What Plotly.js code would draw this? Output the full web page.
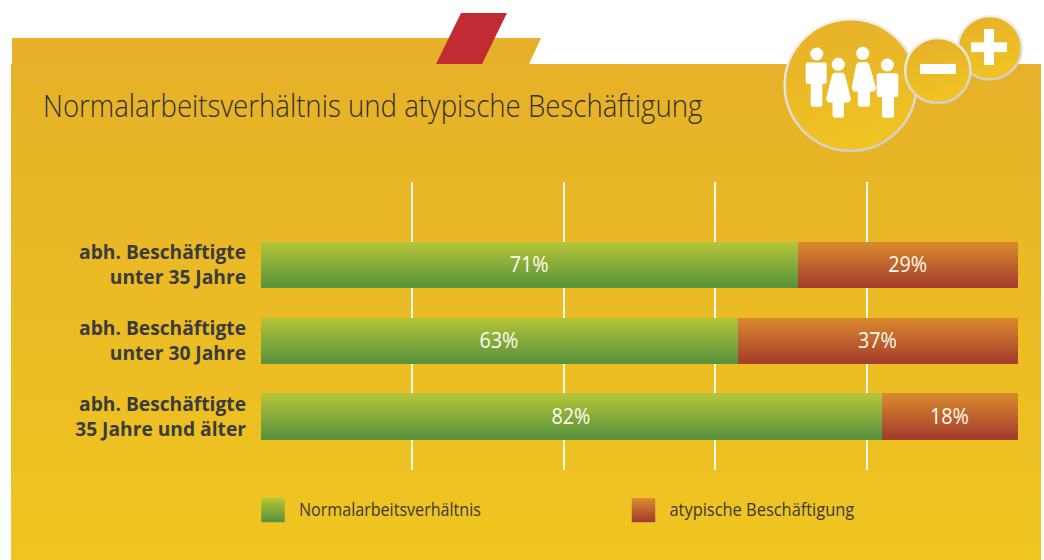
<!DOCTYPE html>
<html lang="de">
<head>
<meta charset="utf-8">
<title>Normalarbeitsverhältnis und atypische Beschäftigung</title>
<script src="https://cdn.plot.ly/plotly-3.0.1.min.js"></script>
<style>
html,body{margin:0;padding:0;background:#fff;width:1044px;height:560px;overflow:hidden}
#decor{position:absolute;left:0;top:0}
#chart{position:absolute;left:0;top:0;width:1044px;height:560px}
</style>
</head>
<body>
<svg id="decor" width="1044" height="560" viewBox="0 0 1044 560">
  <defs>
    <linearGradient id="panel" gradientUnits="userSpaceOnUse" x1="0" y1="38" x2="0" y2="560">
      <stop offset="0" stop-color="#E6B029"/><stop offset="1" stop-color="#F0C520"/>
    </linearGradient>
    <linearGradient id="disc" x1="0.35" y1="0" x2="0.6" y2="1">
      <stop offset="0" stop-color="#E7B12A"/><stop offset="1" stop-color="#F0C422"/>
    </linearGradient>
    <linearGradient id="ring" x1="0.4" y1="0" x2="0.6" y2="1">
      <stop offset="0" stop-color="#F4F2EA"/><stop offset="1" stop-color="#CFCFC8"/>
    </linearGradient>
  </defs>
  <polygon points="12,38 541,38 529,64 12,64" fill="#E6B029"/>
  <rect x="11" y="64" width="1030" height="496" fill="url(#panel)"/>
  <polygon points="461,13 507,13 482,64 436,64" fill="#C22B34"/>
  <circle cx="850.5" cy="85" r="65.8" fill="url(#disc)" stroke="url(#ring)" stroke-width="2.5"/>
  <circle cx="989.7" cy="47.7" r="31.8" fill="url(#disc)" stroke="url(#ring)" stroke-width="2.5"/>
  <circle cx="937.8" cy="70.5" r="32.6" fill="url(#disc)" stroke="url(#ring)" stroke-width="2.5"/>
  <g fill="#fff">
    <rect x="920" y="64" width="36" height="10"/>
    <rect x="971" y="42.3" width="36" height="9.8"/>
    <rect x="984" y="29" width="10" height="36"/>
    <!-- people -->
    <circle cx="816.7" cy="54" r="6.5"/>
    <path d="M807,62.5H826L826.7,64V82L825,84H822.3V105L821,106.7H812L810.7,105V84H807L805.7,82V64Z"/>
    <circle cx="838.3" cy="64.3" r="6.5"/>
    <path d="M834,72.7H843L845,75L851,99L849,102.5H844V116L843,117.7H834L832.5,116V102.5H828L826,99L832,75Z"/>
    <circle cx="862.7" cy="53.3" r="6.5"/>
    <path d="M858,62.3H867.5L869.5,65L876,88L874.5,91.5H870V105L868.5,106.7H859.5L857.8,105V91.5H853.5L851.7,88L856,65Z"/>
    <circle cx="887.3" cy="65" r="6.5"/>
    <path d="M878,73.3H897L898.3,75V95L897,97H894V116L892.5,117.7H883.5L882,116V97H878L876.7,95V75Z"/>
  </g>
</svg>
<div id="chart"></div>
<script>
const categories = [
  "abh. Beschäftigte<br>35 Jahre und älter",
  "abh. Beschäftigte<br>unter 30 Jahre",
  "abh. Beschäftigte<br>unter 35 Jahre"
];
const seriesNames = ["Normalarbeitsverhältnis", "atypische Beschäftigung"];
const normalValues = [82, 63, 71];
const atypicalValues = [18, 37, 29];
const gridTicks = [20, 40, 60, 80];
const chartTitle = "Normalarbeitsverhältnis und atypische Beschäftigung";

const face = '"Open Sans", "Noto Sans", sans-serif';
const ink = "#3A3B3B";

function barTrace(name, values, colour) {
  return {
    type: "bar", orientation: "h", name: name,
    y: categories, x: values,
    text: values.map(v => v + "%"),
    textposition: "inside", insidetextanchor: "middle", constraintext: "none",
    textangle: 0,
    textfont: {family: face, size: 22, color: "#FFFBEF", weight: 400},
    marker: {color: colour, line: {width: 0}},
    hovertemplate: "%{y}: %{x}%<extra>" + name + "</extra>"
  };
}

const data = [
  barTrace(seriesNames[0], normalValues, "#85AB3A"),
  barTrace(seriesNames[1], atypicalValues, "#BF622E")
];

const layout = {
  width: 1044, height: 560,
  margin: {l: 261, r: 26, t: 182, b: 90, pad: 0},
  paper_bgcolor: "rgba(0,0,0,0)", plot_bgcolor: "rgba(0,0,0,0)",
  barmode: "stack", bargap: 0.386,
  title: {
    text: chartTitle, font: {family: face, size: 32, color: "#303131", weight: 300},
    xref: "container", yref: "container", x: 43 / 1044, xanchor: "left",
    y: 1 - 106 / 560, yanchor: "middle"
  },
  xaxis: {
    range: [0, 100], tickmode: "array", tickvals: gridTicks, showticklabels: false,
    showgrid: true, gridcolor: "rgba(255,255,255,0.9)", gridwidth: 1.5,
    zeroline: false, showline: false, ticks: "", fixedrange: true
  },
  yaxis: {
    type: "category", categoryorder: "array", categoryarray: categories,
    range: [-0.706, 3.096], showgrid: false, zeroline: false, showline: false,
    ticks: "", ticklabelstandoff: 14, fixedrange: true,
    tickfont: {family: face, size: 19, color: ink, weight: "bold"}
  },
  showlegend: true,
  legend: {
    orientation: "h", xref: "container", yref: "container",
    x: 253 / 1044, xanchor: "left", y: 1 - 492 / 560, yanchor: "top",
    entrywidth: 325.5, entrywidthmode: "pixels", traceorder: "normal",
    bgcolor: "rgba(0,0,0,0)", itemclick: false, itemdoubleclick: false,
    font: {family: face, size: 18, color: ink}
  },
  hovermode: "closest"
};

function addGradient(svg, id, top, bottom) {
  const ns = "http://www.w3.org/2000/svg";
  let defs = svg.querySelector("defs");
  if (!defs) { defs = document.createElementNS(ns, "defs"); svg.insertBefore(defs, svg.firstChild); }
  if (svg.querySelector("#" + id)) return;
  const g = document.createElementNS(ns, "linearGradient");
  g.setAttribute("id", id); g.setAttribute("x1", "0"); g.setAttribute("y1", "0");
  g.setAttribute("x2", "0"); g.setAttribute("y2", "1");
  [[0.05, top], [0.95, bottom]].forEach(([o, c]) => {
    const s = document.createElementNS(ns, "stop");
    s.setAttribute("offset", o); s.setAttribute("stop-color", c); g.appendChild(s);
  });
  defs.appendChild(g);
}

// Squeeze real text horizontally to the narrow face of the reference.
function condense(el, factor, side, dy, dx) {
  if (el.dataset.condensed) return;
  const r = el.getBoundingClientRect();
  const clientX = side === "left" ? r.left : side === "right" ? r.right : (r.left + r.right) / 2;
  const m = el.parentNode.getScreenCTM().inverse();
  const ax = m.a * clientX + m.e;
  const old = el.getAttribute("transform") || "";
  el.setAttribute("transform",
    "translate(" + (ax + (dx || 0)) + "," + (dy || 0) + ") scale(" + factor + ",1) translate(" + (-ax) + ",0) " + old);
  el.dataset.condensed = "1";
}

function restyleText(gd) {
  const title = gd.querySelector(".gtitle");
  if (title) condense(title, 660 / title.getBoundingClientRect().width, "left");

  const ticks = Array.from(gd.querySelectorAll(".ytick text"));
  if (ticks.length) {
    const ref = ticks.find(t => t.textContent.includes("unter 35")) || ticks[0];
    const s = 167 / ref.getBoundingClientRect().width;
    ticks.forEach(t => condense(t, s, "right"));
  }

  gd.querySelectorAll(".barlayer .bartext").forEach(t => condense(t, 0.9, "middle", -2, -0.5));

  gd.querySelectorAll(".legend .traces").forEach((t, i) => {
    const txt = t.querySelector("text.legendtext");
    if (!txt) return;
    if (!txt.dataset.condensed) {
      txt.setAttribute("x", 46);
      const target = i === 0 ? 182 : 185;
      condense(txt, target / txt.getBoundingClientRect().width, "left", -1);
    }
  });
}

function paintGradients(gd) {
  const svg = gd.querySelector("svg.main-svg");
  addGradient(svg, "gradNormal", "#B1C338", "#5A933C");
  addGradient(svg, "gradAtypical", "#D8872E", "#A53E2D");
  const ids = ["gradNormal", "gradAtypical"];
  gd.querySelectorAll(".barlayer .trace").forEach((t, i) => {
    t.querySelectorAll(".point path").forEach(p => { p.style.fill = "url(#" + ids[i] + ")"; });
  });
  gd.querySelectorAll(".legend .traces").forEach((t, i) => {
    const p = t.querySelector("path.legendbar") || t.querySelector(".legendpoints path");
    if (p) {
      p.setAttribute("d", "M11.75,12H-11.75V-12H11.75Z");
      p.style.fill = "url(#" + ids[i] + ")";
      p.style.stroke = "none";
    }
  });
}

const gd = document.getElementById("chart");
Plotly.newPlot(gd, data, layout, {displayModeBar: false, responsive: false}).then(() => {
  paintGradients(gd);
  restyleText(gd);
  gd.on("plotly_afterplot", () => { paintGradients(gd); restyleText(gd); });
});
</script>
</body>
</html>
